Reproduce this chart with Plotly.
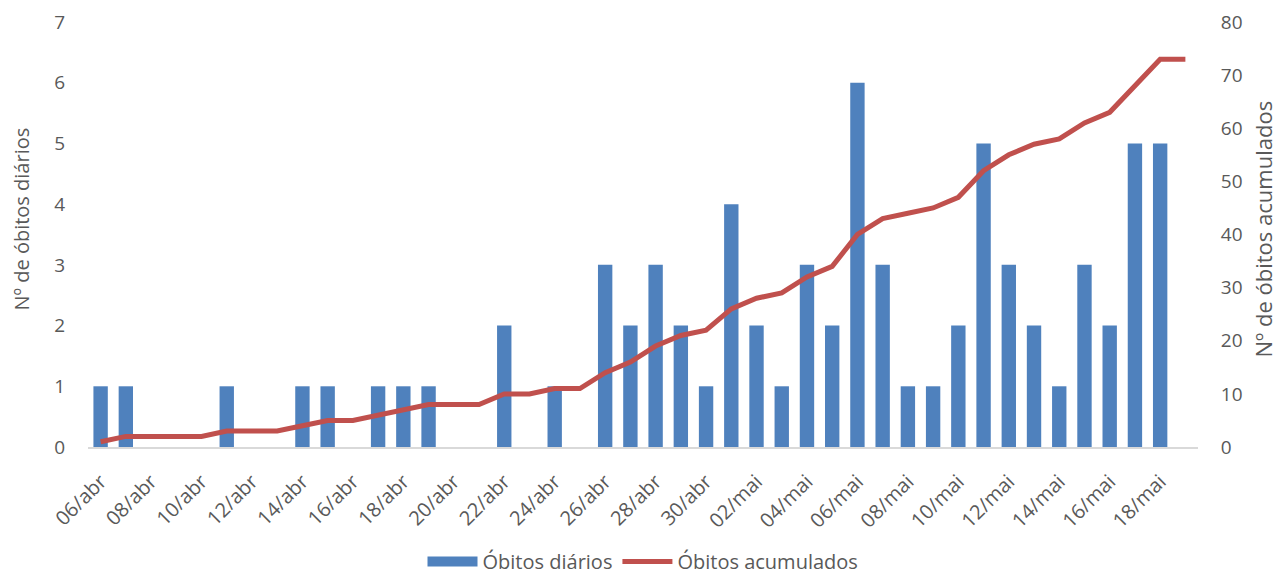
import plotly.graph_objects as go

datas = ["06/abr","07/abr","08/abr","09/abr","10/abr","11/abr","12/abr","13/abr","14/abr","15/abr",
         "16/abr","17/abr","18/abr","19/abr","20/abr","21/abr","22/abr","23/abr","24/abr","25/abr",
         "26/abr","27/abr","28/abr","29/abr","30/abr","01/mai","02/mai","03/mai","04/mai","05/mai",
         "06/mai","07/mai","08/mai","09/mai","10/mai","11/mai","12/mai","13/mai","14/mai","15/mai",
         "16/mai","17/mai","18/mai","19/mai"]
obitos_diarios = [1,1,0,0,0,1,0,0,1,1,
                  0,1,1,1,0,0,2,0,1,0,
                  3,2,3,2,1,4,2,1,3,2,
                  6,3,1,1,2,5,3,2,1,3,
                  2,5,5,0]
obitos_acumulados = [1,2,2,2,2,3,3,3,4,5,
                     5,6,7,8,8,8,10,10,11,11,
                     14,16,19,21,22,26,28,29,32,34,
                     40,43,44,45,47,52,55,57,58,61,
                     63,68,73,73]
tick_labels = datas[::2]

FONT = "'Open Sans', Lato, sans-serif"
GRAY = "#595959"
BLUE = "#4F81BD"
RED = "#C0504D"
FS = 19

fig = go.Figure()
fig.add_trace(go.Bar(x=datas, y=obitos_diarios, name="Óbitos diários",
                     marker=dict(color=BLUE, line=dict(width=0)), yaxis="y",
                     legendgroup="d", showlegend=False))
# legend swatch for the bars (wide rectangle like the reference)
fig.add_trace(go.Scatter(x=[None], y=[None], name="Óbitos diários", mode="lines",
                         line=dict(color=BLUE, width=15), legendgroup="d", yaxis="y"))
fig.add_trace(go.Scatter(x=datas, y=obitos_acumulados, name="Óbitos acumulados",
                         mode="lines", line=dict(color=RED, width=5), yaxis="y2"))

fig.update_layout(
    width=1274, height=566,
    margin=dict(l=80, r=84, t=14, b=127, autoexpand=False),
    paper_bgcolor="white", plot_bgcolor="white",
    font=dict(family=FONT, color=GRAY, size=FS),
    bargap=0.43,
    showlegend=True,
    legend=dict(orientation="h", x=0.5, xanchor="center", yref="container", y=0.022,
                yanchor="middle", font=dict(size=20, color=GRAY), traceorder="normal",
                itemwidth=50),
    xaxis=dict(type="category", tickvals=tick_labels, ticktext=tick_labels,
               tickangle=-45, showgrid=False, showline=True, linecolor="#D9D9D9",
               linewidth=2, ticks="outside", ticklen=13, tickcolor="rgba(0,0,0,0)",
               tickfont=dict(size=20, color=GRAY), automargin=False),
    yaxis=dict(range=[0, 7], dtick=1, showgrid=False, zeroline=False, showline=False,
               tickfont=dict(size=FS, color=GRAY), ticks="outside", ticklen=18,
               tickcolor="rgba(0,0,0,0)", automargin=False),
    yaxis2=dict(range=[0, 80], dtick=10, overlaying="y", side="right", showgrid=False,
                zeroline=False, showline=False,
                tickfont=dict(size=FS, color=GRAY), ticks="outside", ticklen=18,
                tickcolor="rgba(0,0,0,0)", automargin=False),
    annotations=[
        dict(text="Nº de óbitos diários", xref="paper", yref="paper", x=0, y=0.5,
             xanchor="center", yanchor="middle", textangle=-90, showarrow=False,
             font=dict(size=20, color=GRAY), xshift=-67, yshift=15),
        dict(text="Nº de óbitos acumulados", xref="paper", yref="paper", x=1.0, y=0.5,
             xanchor="center", yanchor="middle", textangle=-90, showarrow=False,
             font=dict(size=22, color=GRAY), xshift=64, yshift=5),
    ],
)

fig.write_html("out.html")
